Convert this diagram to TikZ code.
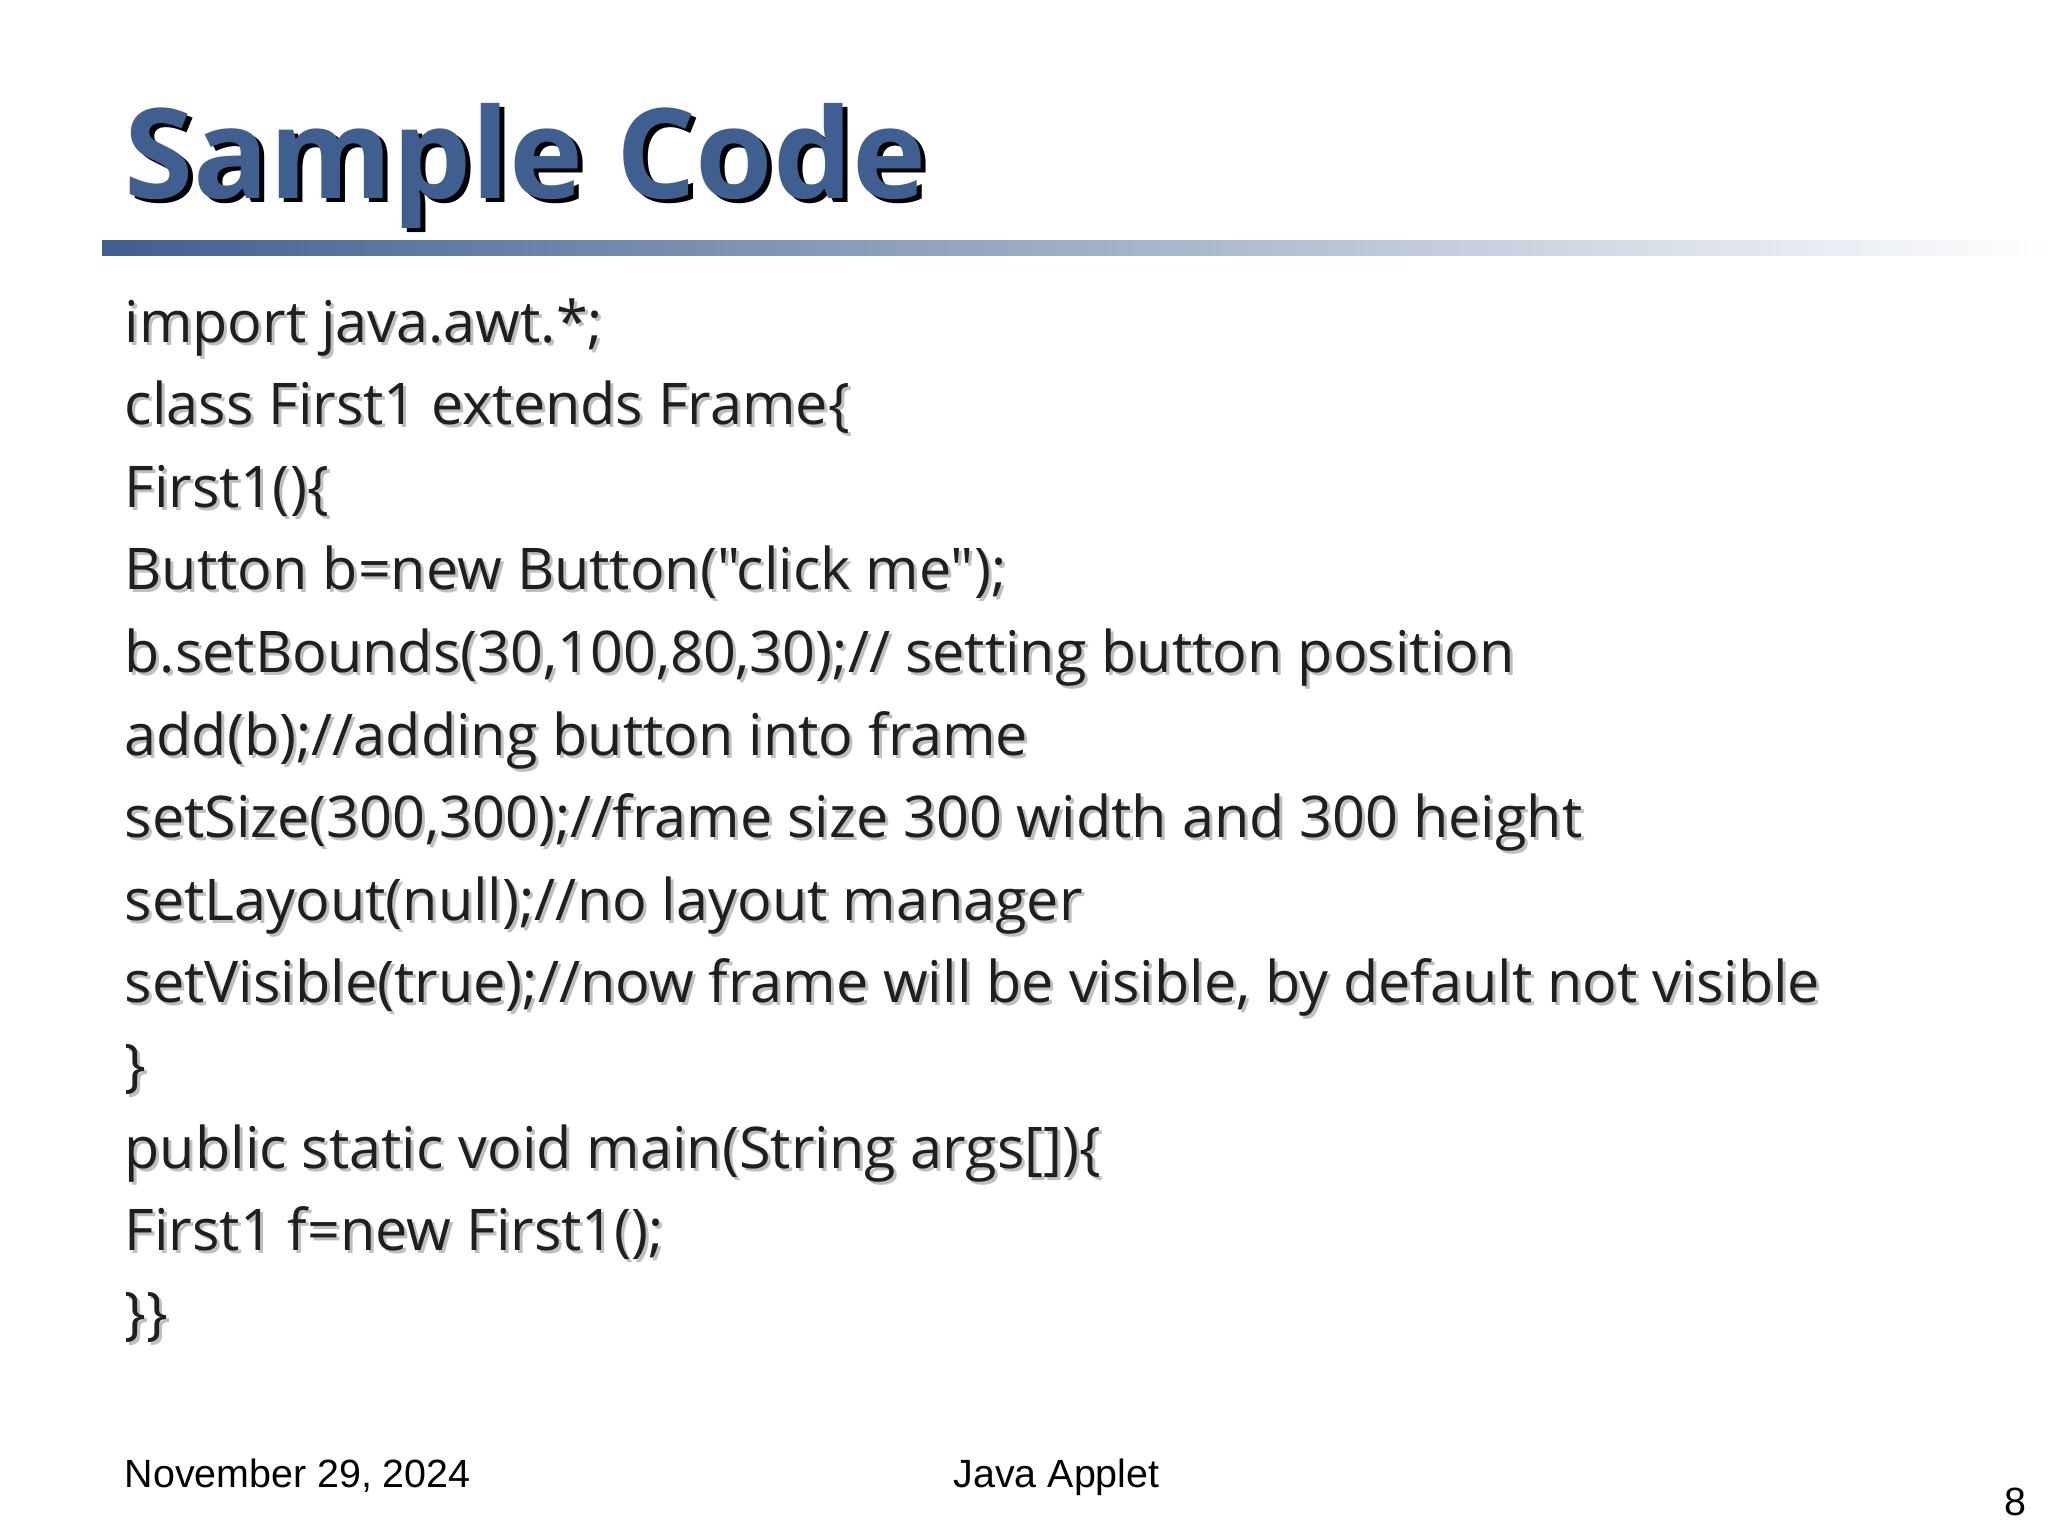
\documentclass[tikz,border=0pt]{standalone}
\usepackage{fontspec}
\setmainfont{Open Sans}[Ligatures=TeXOff]
\newfontfamily\footfont{Liberation Sans}
\definecolor{titleblue}{HTML}{3F5F91}
\begin{document}
\begin{tikzpicture}[x=0.01cm,y=-0.01cm,
  body/.style={anchor=base west,inner sep=0pt,font=\fontsize{16.35}{20}\selectfont,text=black!88},
  bodyshadow/.style={body,text=black!25},
  foot/.style={anchor=base west,inner sep=0pt,font=\footfont\fontsize{11.2}{13}\selectfont}]
\useasboundingbox (0,0) rectangle (2048,1536);
\fill[white] (0,0) rectangle (2048,1536);
% title
\node[anchor=base west,inner sep=0pt,font=\bfseries\fontsize{35.6}{42}\selectfont,text=black] (titlesh) at (129,202) {Sample Code};
\node[anchor=base west,inner sep=0pt,font=\bfseries\fontsize{35.6}{42}\selectfont,text=titleblue] (title) at (124,198) {Sample Code};
% bar
\shade[left color=titleblue,right color=white] (102,240) rectangle (2048,255);
% code lines
\foreach \t [count=\i from 0] in {import java.awt.*;,class First1 extends Frame\{,First1()\{,Button b=new Button("click me");,{b.setBounds(30,100,80,30);// setting button position},add(b);//adding button into frame,{setSize(300,300);//frame size 300 width and 300 height},setLayout(null);//no layout manager,{setVisible(true);//now frame will be visible, by default not visible},\},public static void main(String args[])\{,First1 f=new First1();,\}\}}{
  \node[bodyshadow] (s\i) at (127,345+82.6*\i) {\t};
  \node[body] (l\i) at (124,342+82.6*\i) {\t};
}
% footer
\node[foot] (date) at (124,1487) {November 29, 2024};
\node[foot] (mid) at (953,1487) {Java Applet};
\node[foot,anchor=base east] (num) at (2027,1515) {8};
\end{tikzpicture}
\end{document}
